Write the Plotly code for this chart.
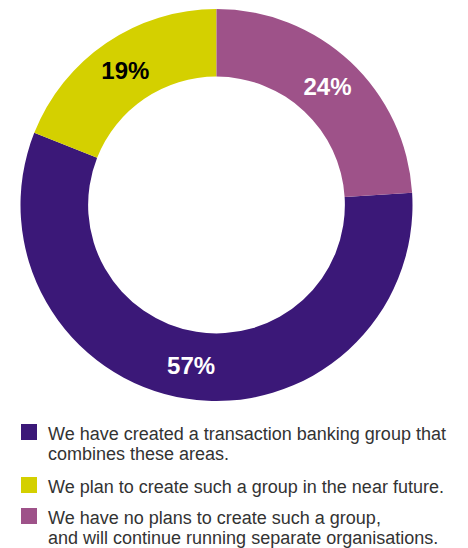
import plotly.graph_objects as go

# Survey answers, in legend order (one list of text lines per answer)
answers = [
    ["We have created a transaction banking group that", "combines these areas."],
    ["We plan to create such a group in the near future."],
    ["We have no plans to create such a group,", "and will continue running separate organisations."],
]
shares = [57, 19, 24]
colors = ["#3B1878", "#D4D000", "#9E5289"]
label_colors = ["white", "black", "white"]

W, H = 468, 548
FONT = "Liberation Sans, Arial, Helvetica, sans-serif"

# the last answer sits at 12 o'clock, so the first slice starts after it
start_angle = 360 * shares[-1] / sum(shares)

fig = go.Figure()
fig.add_trace(go.Pie(
    labels=[" ".join(a) for a in answers],
    values=shares,
    sort=False,
    direction="clockwise",
    rotation=start_angle,
    hole=0.655,
    marker=dict(colors=colors, line=dict(width=0)),
    texttemplate="%{percent:.0%}",
    textposition="inside",
    insidetextorientation="horizontal",
    insidetextfont=dict(family=FONT, size=24, weight="bold", color=label_colors),
    showlegend=False,
    hoverinfo="label+percent",
    domain=dict(x=[(216.5 - 196) / W, (216.5 + 196) / W],
                y=[1 - 401 / H, 1 - 9 / H]),
))

# legend: a colour square and the answer text for each slice
first_baselines = [440, 493, 524]
line_gap = 21
sq = 16
shapes = []
annotations = []
for lines, col, base in zip(answers, colors, first_baselines):
    shapes.append(dict(type="rect", xref="paper", yref="paper",
                       x0=21 / W, x1=(21 + sq) / W,
                       y0=1 - base / H, y1=1 - (base - sq) / H,
                       fillcolor=col, line=dict(width=0)))
    for k, line in enumerate(lines):
        b = base + k * line_gap - (1 if k else 0)
        annotations.append(dict(text=line, xref="paper", yref="paper",
                                x=46 / W, y=1 - (b - 6.2) / H,
                                xanchor="left", yanchor="middle",
                                align="left", showarrow=False,
                                font=dict(family=FONT, size=18, color="#333333")))

fig.update_layout(
    width=W, height=H,
    margin=dict(l=0, r=0, t=0, b=0),
    paper_bgcolor="white",
    plot_bgcolor="white",
    shapes=shapes,
    annotations=annotations,
)

fig.write_html("out.html")
